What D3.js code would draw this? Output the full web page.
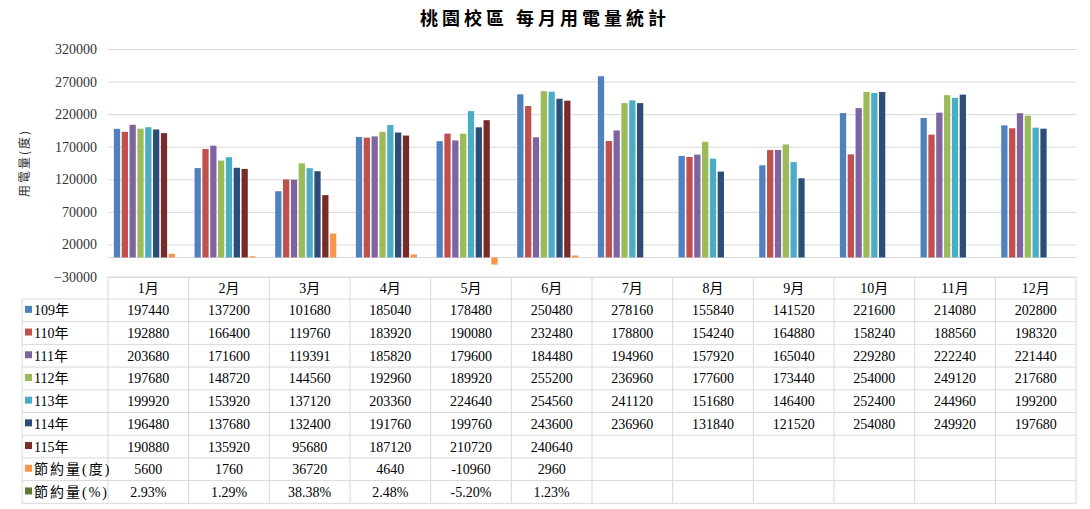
<!DOCTYPE html>
<html>
<head>
<meta charset="utf-8">
<script src="https://cdn.jsdelivr.net/npm/d3@7"></script>
<style>
  body { margin: 0; background: #fff; }
  .tick text, .cell { font-family: "Liberation Serif", "Noto Sans CJK TC", serif; }
  .cjk { font-family: "Noto Sans CJK TC", sans-serif; }
</style>
</head>
<body>
<script>
// data
var months = ["1月", "2月", "3月", "4月", "5月", "6月", "7月", "8月", "9月", "10月", "11月", "12月"];
var seriesNames = ["109年", "110年", "111年", "112年", "113年", "114年", "115年", "節約量(度)", "節約量(%)"];
var seriesColors = ["#4f81bd", "#c0504d", "#8064a2", "#9bbb59", "#4bacc6", "#2c4d75", "#772c2a", "#f79646", "#5f7530"];
var y109 = [197440, 137200, 101680, 185040, 178480, 250480, 278160, 155840, 141520, 221600, 214080, 202800];
var y110 = [192880, 166400, 119760, 183920, 190080, 232480, 178800, 154240, 164880, 158240, 188560, 198320];
var y111 = [203680, 171600, 119391, 185820, 179600, 184480, 194960, 157920, 165040, 229280, 222240, 221440];
var y112 = [197680, 148720, 144560, 192960, 189920, 255200, 236960, 177600, 173440, 254000, 249120, 217680];
var y113 = [199920, 153920, 137120, 203360, 224640, 254560, 241120, 151680, 146400, 252400, 244960, 199200];
var y114 = [196480, 137680, 132400, 191760, 199760, 243600, 236960, 131840, 121520, 254080, 249920, 197680];
var y115 = [190880, 135920, 95680, 187120, 210720, 240640];
var savedKwh = [5600, 1760, 36720, 4640, -10960, 2960];
var savedPct = [0.0293, 0.0129, 0.3838, 0.0248, -0.0520, 0.0123];
var yTicks = [-30000, 20000, 70000, 120000, 170000, 220000, 270000, 320000];

var seriesValues = [y109, y110, y111, y112, y113, y114, y115, savedKwh, savedPct];

function cellText(si, v) {
  if (v === undefined) return "";
  if (si === 8) return (v * 100).toFixed(2) + "%";
  return String(v);
}

// layout
var width = 1090, height = 509;
var plotLeft = 108, plotRight = 1076, plotTop = 49, plotBottom = 277;
var tableLeft = 22, headerH = 22, rowH = 22.7;

var svg = d3.select("body").append("svg")
  .attr("width", width)
  .attr("height", height);

var x0 = d3.scaleBand().domain(months).range([plotLeft, plotRight]);
var x1 = d3.scaleBand().domain(d3.range(seriesNames.length))
  .range([0, x0.bandwidth()])
  .paddingInner(0.2)
  .paddingOuter(0.75);
var y = d3.scaleLinear().domain([-30000, 320000]).range([plotBottom, plotTop]);

// title
svg.append("text")
  .attr("class", "cjk")
  .attr("x", 545)
  .attr("y", 25)
  .attr("text-anchor", "middle")
  .attr("font-size", 18)
  .attr("font-weight", "bold")
  .attr("letter-spacing", 4)
  .attr("fill", "#000")
  .text("桃園校區 每月用電量統計");

// y axis label
svg.append("text")
  .attr("class", "cjk")
  .attr("transform", "translate(29,163) rotate(-90)")
  .attr("text-anchor", "middle")
  .attr("font-size", 12)
  .attr("letter-spacing", 2)
  .attr("fill", "#333")
  .text("用電量(度)");

// grid + axis
var yAxis = svg.append("g")
  .attr("transform", "translate(" + plotLeft + ",0)")
  .call(d3.axisLeft(y).tickValues(yTicks).tickSize(-(plotRight - plotLeft)).tickPadding(11).tickFormat(d3.format("d")));
yAxis.select(".domain").remove();
yAxis.selectAll(".tick line").attr("stroke", "#d9d9d9");
yAxis.selectAll(".tick text").attr("font-size", 14).attr("fill", "#333");

// zero line
svg.append("line")
  .attr("x1", plotLeft).attr("x2", plotRight)
  .attr("y1", y(0)).attr("y2", y(0))
  .attr("stroke", "#d9d9d9");

// bars
var groups = svg.selectAll(".month")
  .data(months)
  .enter().append("g")
  .attr("class", "month")
  .attr("transform", function (d) { return "translate(" + x0(d) + ",0)"; });

groups.selectAll("rect")
  .data(function (d, mi) {
    return seriesValues.map(function (vals, si) { return {si: si, v: vals[mi]}; })
      .filter(function (e) { return e.v !== undefined; });
  })
  .enter().append("rect")
  .attr("x", function (d) { return x1(d.si); })
  .attr("width", x1.bandwidth())
  .attr("y", function (d) { return y(Math.max(0, d.v)); })
  .attr("height", function (d) { return Math.abs(y(d.v) - y(0)); })
  .attr("fill", function (d) { return seriesColors[d.si]; });

// data table
var table = svg.append("g");
var tableBottom = plotBottom + headerH + rowH * seriesNames.length;
var lineColor = "#d9d9d9";

// horizontal lines
table.append("line")
  .attr("x1", plotLeft).attr("x2", plotRight)
  .attr("y1", plotBottom).attr("y2", plotBottom)
  .attr("stroke", lineColor);
d3.range(seriesNames.length + 1).forEach(function (i) {
  var yy = plotBottom + headerH + rowH * i;
  table.append("line")
    .attr("x1", tableLeft).attr("x2", plotRight)
    .attr("y1", yy).attr("y2", yy)
    .attr("stroke", lineColor);
});
// vertical lines
table.append("line")
  .attr("x1", tableLeft).attr("x2", tableLeft)
  .attr("y1", plotBottom + headerH).attr("y2", tableBottom)
  .attr("stroke", lineColor);
months.forEach(function (m) {
  var xx = x0(m);
  table.append("line")
    .attr("x1", xx).attr("x2", xx)
    .attr("y1", plotBottom).attr("y2", tableBottom)
    .attr("stroke", lineColor);
});
table.append("line")
  .attr("x1", plotRight).attr("x2", plotRight)
  .attr("y1", plotBottom).attr("y2", tableBottom)
  .attr("stroke", lineColor);

// header
table.selectAll(".head")
  .data(months)
  .enter().append("text")
  .attr("class", "cell")
  .attr("x", function (d) { return x0(d) + x0.bandwidth() / 2; })
  .attr("y", plotBottom + headerH / 2 + 5)
  .attr("text-anchor", "middle")
  .attr("font-size", 14)
  .attr("fill", "#000")
  .text(function (d) { return d; });

// rows
seriesNames.forEach(function (name, si) {
  var cy = plotBottom + headerH + rowH * si + rowH / 2;
  table.append("rect")
    .attr("x", 25).attr("y", cy - 4.5)
    .attr("width", 7).attr("height", 7)
    .attr("fill", seriesColors[si]);
  table.append("text")
    .attr("class", "cell")
    .attr("x", 34)
    .attr("y", cy + 5)
    .attr("font-size", 14)
    .attr("letter-spacing", si >= 7 ? 2 : 0)
    .attr("fill", "#000")
    .text(name);
  table.selectAll(".r" + si)
    .data(months)
    .enter().append("text")
    .attr("class", "cell")
    .attr("x", function (d) { return x0(d) + x0.bandwidth() / 2; })
    .attr("y", cy + 5)
    .attr("text-anchor", "middle")
    .attr("font-size", 14)
    .attr("fill", "#000")
    .text(function (d, mi) { return cellText(si, seriesValues[si][mi]); });
});
</script>
</body>
</html>
